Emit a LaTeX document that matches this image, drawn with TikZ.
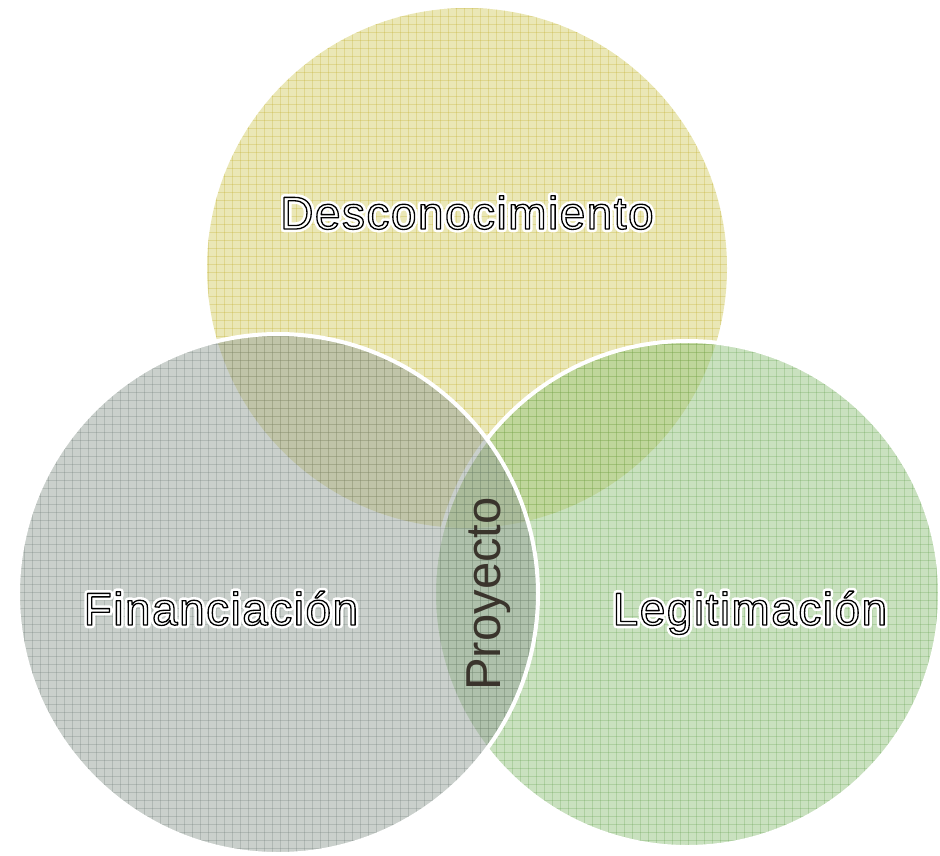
\documentclass[tikz,border=0pt]{standalone}
\usepackage{fontspec}
\setmainfont{Liberation Sans}
\newfontfamily\lblfont[LetterSpace=3.2]{Liberation Sans}
\usetikzlibrary{calc}
\definecolor{cTop}{RGB}{214,208,110}
\definecolor{gTop}{RGB}{190,170,40}
\definecolor{cLeft}{RGB}{150,162,154}
\definecolor{gLeft}{RGB}{110,122,116}
\definecolor{cRight}{RGB}{148,196,128}
\definecolor{gRight}{RGB}{100,160,80}
\definecolor{projtext}{RGB}{58,52,44}
\tikzset{
  lbl/.style={font=\lblfont\fontsize{46}{50}\selectfont, anchor=base, inner sep=0pt, text=white},
  projlbl/.style={font=\fontsize{49}{52}\selectfont, anchor=base, inner sep=0pt, text=projtext, rotate=90},
  circfill/.style={fill=#1, fill opacity=0.5},
  gridline/.style={draw=#1, opacity=0.28, line width=0.6pt},
  rim/.style={draw=white, line width=4pt},
}
% outlined text: white halo behind, white glyphs with black outline in front
\newcommand{\halotext}[3]{%
  \node[lbl] at (#1) {\special{pdf:literal direct 1 1 1 RG 2 Tr 6.5 w 1 j}#2\special{pdf:literal direct 0 Tr 1 w 0 j}};
  \node[lbl] (#3) at (#1) {\special{pdf:literal direct 0 0 0 RG 2 Tr 1.3 w 1 j}#2\special{pdf:literal direct 0 Tr 1 w 0 j}};
}
\newcommand{\gridcircle}[4]{% center, radius, fill colour, grid colour
  \fill[circfill=#3] (#1) circle[radius=#2];
  \begin{scope}
    \clip (#1) circle[radius=#2];
    \foreach \gx in {0,8,...,944} {\draw[gridline=#4] (\gx,0) -- (\gx,856);}
    \foreach \gy in {0,8,...,856} {\draw[gridline=#4] (0,\gy) -- (944,\gy);}
  \end{scope}
}
\begin{document}
\begin{tikzpicture}[x=1pt, y=-1pt]
  \useasboundingbox (0,0) rectangle (940,855);
  \coordinate (ct) at (467,268);
  \coordinate (cr) at (687,594);
  \coordinate (cl) at (278,594);
  % top circle
  \gridcircle{ct}{260}{cTop}{gTop}
  % right circle
  \gridcircle{cr}{253}{cRight}{gRight}
  \draw[rim] (cr) circle[radius=253];
  % left circle
  \gridcircle{cl}{260}{cLeft}{gLeft}
  \draw[rim] (cl) circle[radius=260];
  % labels
  \coordinate (pt) at (467,229);
  \coordinate (pl) at (221,625);
  \coordinate (pr) at (750,625);
  \halotext{pt}{Desconocimiento}{desc}
  \halotext{pl}{Financiación}{fin}
  \halotext{pr}{Legitimación}{leg}
  \node[projlbl] (proy) at (500,594) {Proyecto};
\end{tikzpicture}
\end{document}
